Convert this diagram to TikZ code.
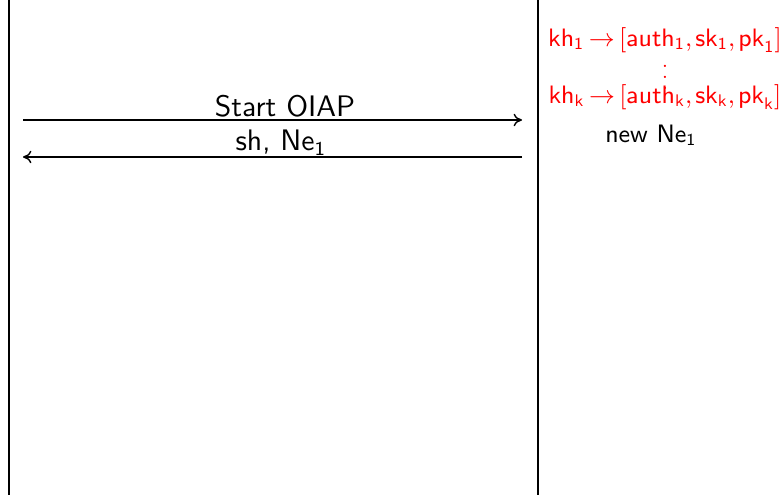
\documentclass[tikz,border=0pt]{standalone}
\usetikzlibrary{arrows.meta}
\begin{document}
\begin{tikzpicture}[x=0.357pt,y=-0.357pt,
  lifeline/.style={line width=0.8pt},
  msg/.style={line width=0.5pt,-{To[length=3pt,width=4.5pt]}},
  lbl/.style={font=\sffamily\fontsize{10.6}{12}\selectfont, inner sep=0pt},
  side/.style={font=\sffamily\fontsize{9.0}{11}\selectfont, inner sep=0pt},
  keys/.style={side, text=red, execute at begin node={\thickmuskip=3mu\thinmuskip=2mu}},
  dots/.style={font=\fontsize{7}{8}\selectfont, text=red, inner sep=0pt}]
  \useasboundingbox (0,0) rectangle (784,495);
  % lifelines
  \coordinate (lt) at (9,0);
  \coordinate (lb) at (9,495);
  \coordinate (rt) at (538,0);
  \coordinate (rb) at (538,495);
  \draw[lifeline] (lt) -- (lb);
  \draw[lifeline] (rt) -- (rb);
  % messages
  \coordinate (a1) at (23,120);
  \coordinate (b1) at (522,120);
  \coordinate (a2) at (522,157);
  \coordinate (b2) at (23,157);
  \draw[msg] (a1) -- (b1);
  \draw[msg] (a2) -- (b2);
  \node[lbl] (m1) at (285,106) {Start OIAP};
  \node[lbl] (m2) at (281,143) {sh, Ne$_{\mathsf{1}}$};
  % key table
  \node[keys] (k1) at (665,40) {$\mathsf{kh}_{\mathsf{1}}\rightarrow[\mathsf{auth}_{\mathsf{1}},\mathsf{sk}_{\mathsf{1}},\mathsf{pk}_{\mathsf{1}}]$};
  \node[dots] (kd) at (665,69) {$\vdots$};
  \node[keys] (kk) at (665,97) {$\mathsf{kh}_{\mathsf{k}}\rightarrow[\mathsf{auth}_{\mathsf{k}},\mathsf{sk}_{\mathsf{k}},\mathsf{pk}_{\mathsf{k}}]$};
  \node[side] (ne) at (651,135) {new Ne$_{\mathsf{1}}$};
\end{tikzpicture}
\end{document}
